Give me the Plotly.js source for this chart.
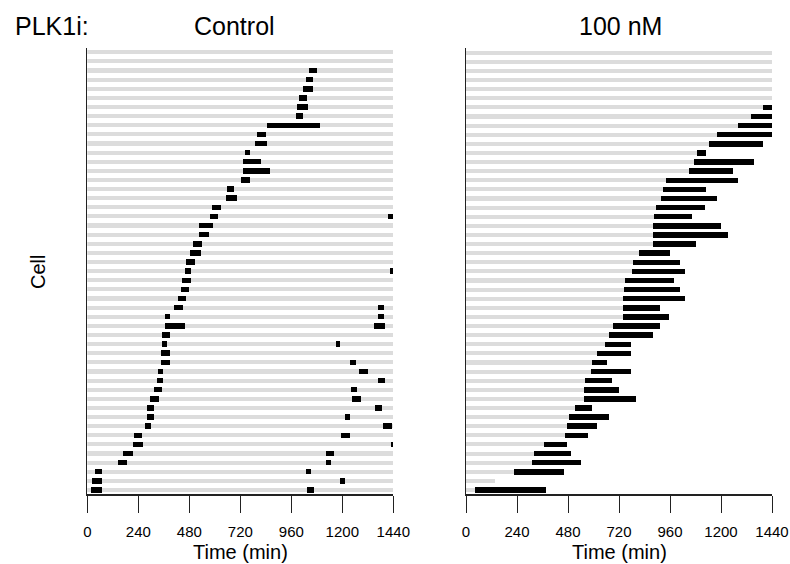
<!DOCTYPE html>
<html>
<head>
<meta charset="utf-8">
<script src="https://cdn.plot.ly/plotly-3.0.1.min.js"></script>
<style>html,body{margin:0;padding:0;background:#fff;}#chart{width:790px;height:564px;}</style>
</head>
<body>
<div id="chart"></div>
<script>
// Cells listed top (1) to bottom (49)
const cells = Array.from({length: 49}, (_, i) => i + 1);
const tickValues = [0, 240, 480, 720, 960, 1200, 1440];
const tickLabels = ["0", "240", "480", "720", "960", "1200", "1440"];

// Control: first mitosis start/end (min)
const ctrlStart1 = [null, null, 1042, 1030, 1017, 998, 986, 980, 847, 797, 791, 741, 734, 734, 722, 659, 653, 588, 577, 525, 527, 496, 483, 464, 458, 445, 439, 427, 408, 364, 364, 351, 351, 345, 345, 332, 326, 313, 295, 282, 282, 270, 219, 213, 169, 144, 37, 21, 18];
const ctrlEnd1   = [null, null, 1080, 1061, 1061, 1036, 1038, 1017, 1093, 841, 847, 766, 816, 862, 766, 690, 703, 628, 615, 590, 571, 540, 533, 508, 489, 489, 477, 464, 452, 389, 458, 389, 376, 389, 389, 357, 357, 351, 338, 313, 313, 301, 257, 263, 213, 188, 71, 68, 68];
// Control: second mitosis start/end (min)
const ctrlStart2 = [null, null, null, null, null, null, null, null, null, null, null, null, null, null, null, null, null, null, 1413, null, null, null, null, null, 1425, null, null, null, 1366, 1366, 1347, null, 1168, null, 1234, 1278, 1366, 1240, 1247, 1353, 1215, 1391, 1193, 1429, 1121, 1121, 1027, 1190, 1033];
const ctrlEnd2   = [null, null, null, null, null, null, null, null, null, null, null, null, null, null, null, null, null, null, 1440, null, null, null, null, null, 1438, null, null, null, 1397, 1397, 1400, null, 1187, null, 1265, 1319, 1400, 1268, 1287, 1388, 1237, 1432, 1237, 1438, 1162, 1149, 1055, 1212, 1067];
const ctrlTrackEnd = cells.map(() => 1440);

// 100 nM: mitosis start/end (min) and end of tracking (min)
const drugStart = [null, null, null, null, null, null, 1399, 1343, 1281, 1181, 1143, 1087, 1075, 1049, 943, 925, 918, 893, 887, 881, 881, 881, 812, 787, 781, 750, 743, 737, 737, 737, 693, 675, 656, 618, 593, 587, 562, 556, 556, 512, 487, 475, 468, 369, 319, 312, 225, null, 42];
const drugEnd   = [null, null, null, null, null, null, 1440, 1440, 1440, 1440, 1399, 1131, 1356, 1256, 1281, 1131, 1181, 1125, 1062, 1199, 1231, 1081, 962, 1006, 1031, 981, 1006, 1031, 912, 956, 912, 881, 775, 775, 662, 775, 687, 718, 800, 593, 675, 618, 575, 475, 493, 543, 462, null, 375];
const drugTrackEnd = [1440, 1440, 1440, 1440, 1440, 1440, 1440, 1440, 1440, 1440, 1399, 1131, 1356, 1256, 1281, 1131, 1181, 1125, 1062, 1199, 1231, 1081, 962, 1006, 1031, 981, 1006, 1031, 912, 956, 912, 881, 775, 775, 662, 775, 687, 718, 800, 593, 675, 618, 575, 475, 493, 543, 462, 136, 375];

const GRAY = '#dcdcdc';
const BLACK = '#000000';
const dur = (s, e) => s.map((v, i) => (v === null || e[i] === null) ? null : e[i] - v);
const baseOf = (s) => s.map(v => v === null ? 0 : v);

function track(ends, xa, ya) {
  return {type: 'bar', orientation: 'h', y: cells, x: ends, base: 0, width: 0.45,
    marker: {color: GRAY, line: {width: 0}}, xaxis: xa, yaxis: ya, hoverinfo: 'skip', showlegend: false};
}
function seg(s, e, xa, ya) {
  return {type: 'bar', orientation: 'h', y: cells, x: dur(s, e), base: baseOf(s), width: 0.6,
    marker: {color: BLACK, line: {width: 0}}, xaxis: xa, yaxis: ya, hoverinfo: 'skip', showlegend: false};
}

const data = [
  track(ctrlTrackEnd, 'x', 'y'),
  seg(ctrlStart1, ctrlEnd1, 'x', 'y'),
  seg(ctrlStart2, ctrlEnd2, 'x', 'y'),
  track(drugTrackEnd, 'x2', 'y2'),
  seg(drugStart, drugEnd, 'x2', 'y2')
];

const W = 790, H = 564;
const px = v => v / W, py = v => 1 - v / H;
const axisLine = '#222222';
function xax(l, r, anchor) {
  return {domain: [px(l), px(r)], range: [0, 1440], anchor: anchor,
    tickmode: 'array', tickvals: tickValues, ticktext: tickLabels,
    ticks: 'outside', ticklen: 17, tickwidth: 1, tickcolor: axisLine, ticklabelstandoff: 6,
    showline: true, linecolor: axisLine, linewidth: 1.5, showgrid: false, zeroline: false,
    tickfont: {family: 'Liberation Sans, Arial, sans-serif', size: 15, color: '#000'}, fixedrange: true};
}
function yax(rng, anchor) {
  return {domain: [py(494), py(48)], range: rng, anchor: anchor,
    showticklabels: false, ticks: '', showline: true, linecolor: axisLine, linewidth: 1.5,
    showgrid: false, zeroline: false, fixedrange: true};
}
const F = 'Liberation Sans, Arial, sans-serif';
function ann(text, x, y, size, extra) {
  return Object.assign({text: text, x: px(x), y: py(y), xref: 'paper', yref: 'paper', showarrow: false,
    xanchor: 'center', yanchor: 'middle', font: {family: F, size: size, color: '#000'}}, extra || {});
}

const layout = {
  width: W, height: H, margin: {l: 0, r: 0, t: 0, b: 0}, paper_bgcolor: '#fff', plot_bgcolor: '#fff',
  barmode: 'overlay', bargap: 0, showlegend: false,
  xaxis: xax(87.3, 393.3, 'y'),
  yaxis: yax([49.44, 0.53], 'x'),
  xaxis2: xax(466, 772, 'y2'),
  yaxis2: yax([49.44, 0.48], 'x2'),
  annotations: [
    ann('PLK1i:', 12.7, 26, 25, {xanchor: 'left'}),
    ann('Control', 235, 26, 25),
    ann('100 nM', 620, 26, 25),
    ann('Cell', 38, 272, 20, {textangle: -90}),
    ann('Time (min)', 240, 552, 20),
    ann('Time (min)', 619, 552, 20)
  ]
};

Plotly.newPlot('chart', data, layout, {staticPlot: true, displayModeBar: false});
</script>
</body>
</html>
